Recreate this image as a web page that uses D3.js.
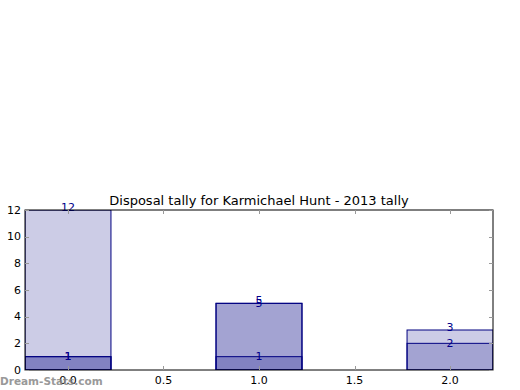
<!DOCTYPE html>
<html>
<head>
<meta charset="utf-8">
<script src="https://cdn.jsdelivr.net/npm/d3@7"></script>
<style>
body { margin: 0; background: #fff; }
text { font-family: "DejaVu Sans", sans-serif; }
</style>
</head>
<body>
<script>
var positions = [0, 1, 2]
var seriesA = [12, 5, 3]
var seriesB = [1, 5, 2]
var seriesC = [1, 1, 0]
var allSeries = [seriesA, seriesB, seriesC]
var labelShift = [-3, 0, 0]
var xTicks = [0, 0.5, 1, 1.5, 2]
var yTicks = [0, 2, 4, 6, 8, 10, 12]

var W = 520, H = 390
var margin = {top: 210, right: 27, bottom: 20, left: 25}
var width = W - margin.left - margin.right,
    height = H - margin.top - margin.bottom

var svg = d3.select("body").append("svg").attr("width", W).attr("height", H)

var x = d3.scaleLinear().domain([-0.225, 2.225]).range([0, width])
var y = d3.scaleLinear().domain([0, 12]).range([height, 0])
var barW = 0.45

var g = svg.append("g").attr("transform", "translate(" + margin.left + "," + margin.top + ")")

g.append("clipPath").attr("id", "clip").append("rect").attr("width", width).attr("height", height)

var bars = g.append("g").attr("clip-path", "url(#clip)")
allSeries.forEach(function(s, k) {
  bars.selectAll(".b" + k).data(s).enter().append("rect")
    .attr("x", function(d, i) { return x(positions[i] - barW / 2) })
    .attr("width", x(barW) - x(0))
    .attr("y", function(d) { return y(d) })
    .attr("height", function(d) { return height - y(d) })
    .style("fill", "rgba(0,0,128,0.2)")
    .style("stroke", "#000080")
    .style("stroke-width", 1)
})

// labels
allSeries.forEach(function(s, k) {
  g.selectAll(".l" + k).data(s).enter().append("text")
    .filter(function(d) { return d > 0 })
    .attr("x", function(d, i) { return x(positions[i]) })
    .attr("y", function(d) { return y(d) + labelShift[k] })
    .attr("text-anchor", "middle")
    .attr("dominant-baseline", "central")
    .style("font-size", "11px")
    .style("fill", "#00008b")
    .text(function(d) { return d })
})

// axes box
g.append("rect").attr("width", width).attr("height", height)
  .style("fill", "none").style("stroke", "#000").style("stroke-width", 1)

// ticks (inside, both sides)
xTicks.forEach(function(t) {
  var px = Math.round(x(t)) + 0.5
  g.append("line").attr("x1", px).attr("x2", px).attr("y1", height).attr("y2", height - 4).style("stroke", "#999")
  g.append("line").attr("x1", px).attr("x2", px).attr("y1", 0).attr("y2", 4).style("stroke", "#999")
  g.append("text").attr("x", x(t)).attr("y", height + 14).attr("text-anchor", "middle")
    .style("font-size", "11px").text(t.toFixed(1))
})
yTicks.forEach(function(t) {
  var py = Math.round(y(t)) + 0.5
  g.append("line").attr("x1", 0).attr("x2", 4).attr("y1", py).attr("y2", py).style("stroke", "#999")
  g.append("line").attr("x1", width).attr("x2", width - 4).attr("y1", py).attr("y2", py).style("stroke", "#999")
  g.append("text").attr("x", -4).attr("y", y(t)).attr("text-anchor", "end")
    .attr("dominant-baseline", "central").style("font-size", "11px").text(t)
})

g.append("text").attr("x", width / 2).attr("y", -5).attr("text-anchor", "middle")
  .style("font-size", "13px").text("Disposal tally for Karmichael Hunt - 2013 tally")

// watermark
svg.append("text").attr("x", 0).attr("y", 385)
  .style("font-size", "10.5px").style("font-weight", "bold").style("fill", "#888").style("opacity", 0.85)
  .text("Dream-Stats.com")
</script>
</body>
</html>
